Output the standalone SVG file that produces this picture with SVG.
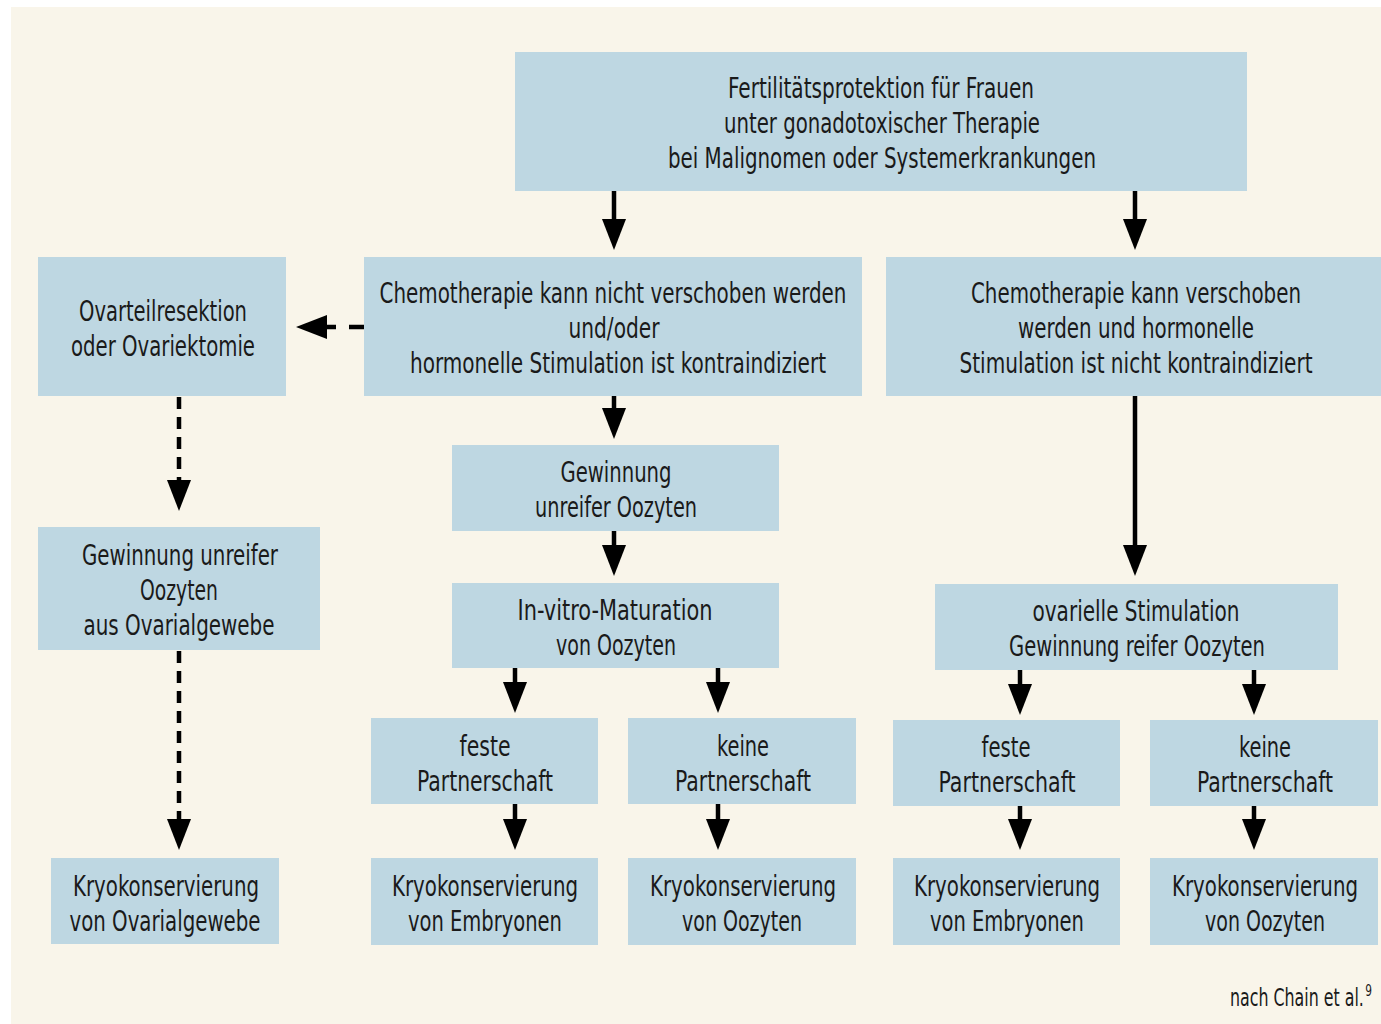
<svg xmlns="http://www.w3.org/2000/svg" width="1381" height="1024" viewBox="0 0 1381 1024">
<style>
.box{fill:#bed7e2}
.t{font-family:"Liberation Sans Narrow","DejaVu Sans Condensed","Roboto Condensed",sans-serif;font-stretch:condensed;font-size:28px;fill:#1a1a1a;text-anchor:middle}
.c{stroke:#000;stroke-width:4.5;fill:none}
.d{stroke-dasharray:12 8}
.dh{stroke-dasharray:15 13}
</style>
<defs>
<marker id="ah" markerUnits="userSpaceOnUse" markerWidth="31" markerHeight="24" refX="16" refY="12" orient="auto">
<path d="M0,0 L31,12 L0,24 z" fill="#000"/>
</marker>
</defs>
<rect x="0" y="0" width="1381" height="1024" fill="#fff"/>
<rect x="11" y="7" width="1370" height="1017" fill="#f9f5ea"/>

<g id="connectors">
<line class="c" x1="614" y1="191" x2="614" y2="235" marker-end="url(#ah)"/>
<line class="c" x1="1135" y1="191" x2="1135" y2="235" marker-end="url(#ah)"/>
<line class="c dh" x1="364" y1="327" x2="311" y2="327" marker-end="url(#ah)"/>
<line class="c" x1="614" y1="396" x2="614" y2="424" marker-end="url(#ah)"/>
<line class="c" x1="614" y1="531" x2="614" y2="561" marker-end="url(#ah)"/>
<line class="c d" x1="179" y1="397" x2="179" y2="496" marker-end="url(#ah)"/>
<line class="c" x1="1135" y1="396" x2="1135" y2="561" marker-end="url(#ah)"/>
<line class="c d" x1="179" y1="651" x2="179" y2="835" marker-end="url(#ah)"/>
<line class="c" x1="515" y1="668" x2="515" y2="698" marker-end="url(#ah)"/>
<line class="c" x1="718" y1="668" x2="718" y2="698" marker-end="url(#ah)"/>
<line class="c" x1="515" y1="804" x2="515" y2="835" marker-end="url(#ah)"/>
<line class="c" x1="718" y1="804" x2="718" y2="835" marker-end="url(#ah)"/>
<line class="c" x1="1020" y1="670" x2="1020" y2="700" marker-end="url(#ah)"/>
<line class="c" x1="1254" y1="670" x2="1254" y2="700" marker-end="url(#ah)"/>
<line class="c" x1="1020" y1="806" x2="1020" y2="835" marker-end="url(#ah)"/>
<line class="c" x1="1254" y1="806" x2="1254" y2="835" marker-end="url(#ah)"/>
</g>

<g id="n-top">
<rect class="box" x="515" y="52" width="732" height="139"/>
<text class="t" x="881" y="98" textLength="306" lengthAdjust="spacingAndGlyphs">Fertilitätsprotektion für Frauen</text>
<text class="t" x="882" y="133" textLength="316" lengthAdjust="spacingAndGlyphs">unter gonadotoxischer Therapie</text>
<text class="t" x="882" y="168" textLength="428" lengthAdjust="spacingAndGlyphs">bei Malignomen oder Systemerkrankungen</text>
</g>

<g id="n-chemo-nicht">
<rect class="box" x="364" y="257" width="498" height="139"/>
<text class="t" x="613" y="303" textLength="467" lengthAdjust="spacingAndGlyphs">Chemotherapie kann nicht verschoben werden</text>
<text class="t" x="614" y="338" textLength="91" lengthAdjust="spacingAndGlyphs">und/oder</text>
<text class="t" x="618" y="373" textLength="416" lengthAdjust="spacingAndGlyphs">hormonelle Stimulation ist kontraindiziert</text>
</g>

<g id="n-chemo-verschoben">
<rect class="box" x="886" y="257" width="495" height="139"/>
<text class="t" x="1136" y="303" textLength="330" lengthAdjust="spacingAndGlyphs">Chemotherapie kann verschoben</text>
<text class="t" x="1136" y="338" textLength="236" lengthAdjust="spacingAndGlyphs">werden und hormonelle</text>
<text class="t" x="1136" y="373" textLength="353" lengthAdjust="spacingAndGlyphs">Stimulation ist nicht kontraindiziert</text>
</g>

<g id="n-ovarteil">
<rect class="box" x="38" y="257" width="248" height="139"/>
<text class="t" x="163" y="321" textLength="168" lengthAdjust="spacingAndGlyphs">Ovarteilresektion</text>
<text class="t" x="163" y="356" textLength="184" lengthAdjust="spacingAndGlyphs">oder Ovariektomie</text>
</g>

<g id="n-gewinnung-mid">
<rect class="box" x="452" y="445" width="327" height="86"/>
<text class="t" x="616" y="482" textLength="111" lengthAdjust="spacingAndGlyphs">Gewinnung</text>
<text class="t" x="616" y="517" textLength="162" lengthAdjust="spacingAndGlyphs">unreifer Oozyten</text>
</g>

<g id="n-ivm">
<rect class="box" x="452" y="583" width="327" height="85"/>
<text class="t" x="615" y="620" textLength="195" lengthAdjust="spacingAndGlyphs">In-vitro-Maturation</text>
<text class="t" x="616" y="655" textLength="120" lengthAdjust="spacingAndGlyphs">von Oozyten</text>
</g>

<g id="n-gewinnung-left">
<rect class="box" x="38" y="527" width="282" height="123"/>
<text class="t" x="180" y="565" textLength="196" lengthAdjust="spacingAndGlyphs">Gewinnung unreifer</text>
<text class="t" x="179" y="600" textLength="78" lengthAdjust="spacingAndGlyphs">Oozyten</text>
<text class="t" x="179" y="635" textLength="191" lengthAdjust="spacingAndGlyphs">aus Ovarialgewebe</text>
</g>

<g id="n-ovar-stim">
<rect class="box" x="935" y="584" width="403" height="86"/>
<text class="t" x="1136" y="621" textLength="207" lengthAdjust="spacingAndGlyphs">ovarielle Stimulation</text>
<text class="t" x="1137" y="656" textLength="256" lengthAdjust="spacingAndGlyphs">Gewinnung reifer Oozyten</text>
</g>

<g id="n-feste-mid">
<rect class="box" x="371" y="718" width="227" height="86"/>
<text class="t" x="485" y="756" textLength="51" lengthAdjust="spacingAndGlyphs">feste</text>
<text class="t" x="485" y="791" textLength="136" lengthAdjust="spacingAndGlyphs">Partnerschaft</text>
</g>

<g id="n-keine-mid">
<rect class="box" x="628" y="718" width="228" height="86"/>
<text class="t" x="743" y="756" textLength="52" lengthAdjust="spacingAndGlyphs">keine</text>
<text class="t" x="743" y="791" textLength="136" lengthAdjust="spacingAndGlyphs">Partnerschaft</text>
</g>

<g id="n-feste-right">
<rect class="box" x="893" y="720" width="227" height="86"/>
<text class="t" x="1006" y="757" textLength="49" lengthAdjust="spacingAndGlyphs">feste</text>
<text class="t" x="1007" y="792" textLength="137" lengthAdjust="spacingAndGlyphs">Partnerschaft</text>
</g>

<g id="n-keine-right">
<rect class="box" x="1150" y="720" width="228" height="86"/>
<text class="t" x="1265" y="757" textLength="52" lengthAdjust="spacingAndGlyphs">keine</text>
<text class="t" x="1265" y="792" textLength="136" lengthAdjust="spacingAndGlyphs">Partnerschaft</text>
</g>

<g id="n-kryo-ovar">
<rect class="box" x="51" y="858" width="228" height="86"/>
<text class="t" x="166" y="896" textLength="186" lengthAdjust="spacingAndGlyphs">Kryokonservierung</text>
<text class="t" x="165" y="931" textLength="191" lengthAdjust="spacingAndGlyphs">von Ovarialgewebe</text>
</g>

<g id="n-kryo-emb-mid">
<rect class="box" x="371" y="858" width="227" height="87"/>
<text class="t" x="485" y="896" textLength="186" lengthAdjust="spacingAndGlyphs">Kryokonservierung</text>
<text class="t" x="485" y="931" textLength="154" lengthAdjust="spacingAndGlyphs">von Embryonen</text>
</g>

<g id="n-kryo-ooz-mid">
<rect class="box" x="628" y="858" width="228" height="87"/>
<text class="t" x="743" y="896" textLength="186" lengthAdjust="spacingAndGlyphs">Kryokonservierung</text>
<text class="t" x="742" y="931" textLength="120" lengthAdjust="spacingAndGlyphs">von Oozyten</text>
</g>

<g id="n-kryo-emb-right">
<rect class="box" x="893" y="858" width="227" height="87"/>
<text class="t" x="1007" y="896" textLength="186" lengthAdjust="spacingAndGlyphs">Kryokonservierung</text>
<text class="t" x="1007" y="931" textLength="154" lengthAdjust="spacingAndGlyphs">von Embryonen</text>
</g>

<g id="n-kryo-ooz-right">
<rect class="box" x="1150" y="858" width="228" height="87"/>
<text class="t" x="1265" y="896" textLength="186" lengthAdjust="spacingAndGlyphs">Kryokonservierung</text>
<text class="t" x="1265" y="931" textLength="120" lengthAdjust="spacingAndGlyphs">von Oozyten</text>
</g>

<g id="source">
<text class="t" x="1301" y="1006" textLength="142" lengthAdjust="spacingAndGlyphs" style="font-size:24px">nach Chain et al.<tspan dx="2" dy="-10" style="font-size:16px">9</tspan></text>
</g>
</svg>
